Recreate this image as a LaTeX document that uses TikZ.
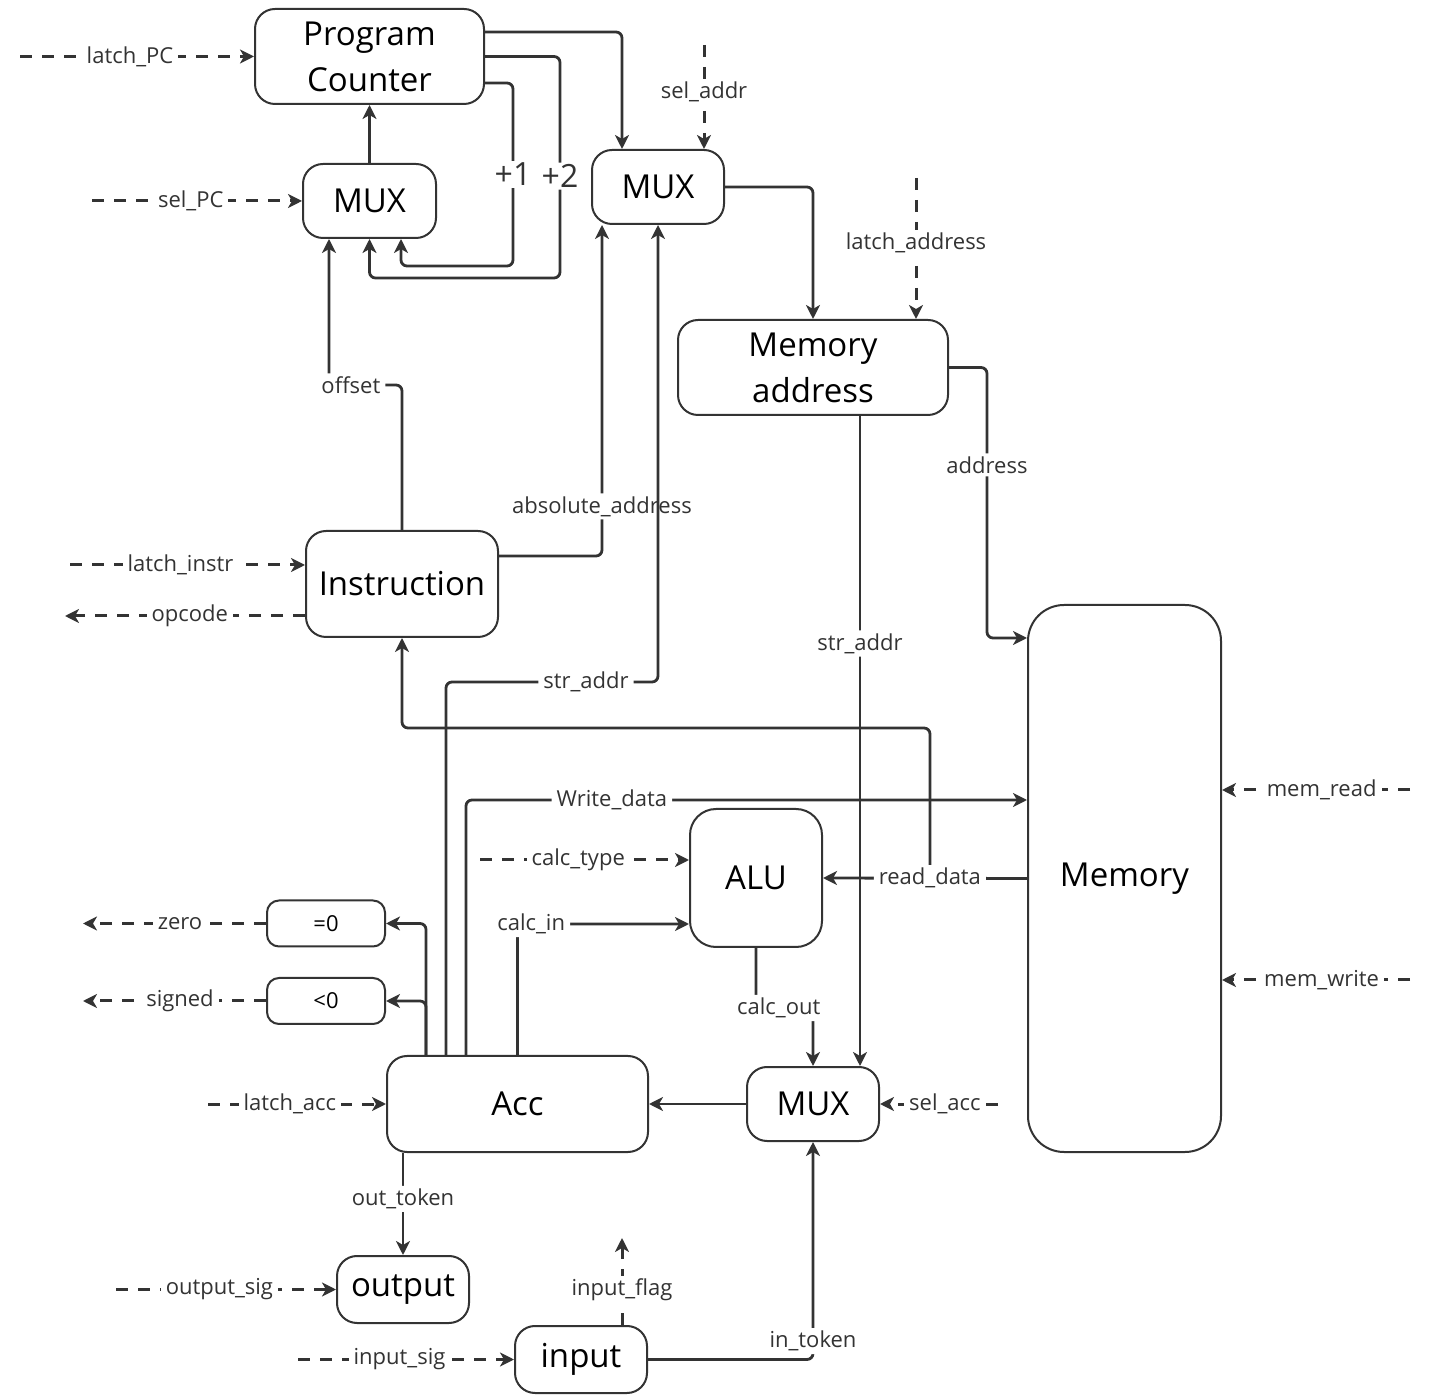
\documentclass[tikz,border=0pt]{standalone}
\usepackage{fontspec}
\setmainfont{Open Sans}
\usepackage{xcolor}
\usetikzlibrary{arrows.meta,positioning}
\definecolor{ink}{HTML}{333333}

\begin{document}
\begin{tikzpicture}[x=0.5pt,y=-0.5pt,
    >={Stealth[length=7pt,width=7pt,inset=2pt]},
    blk/.style={draw=ink, line width=1pt, rounded corners=10pt, inner sep=0pt, align=center, font=\fontsize{16.5}{23}\selectfont},
    chk/.style={blk, rounded corners=6pt, font=\fontsize{11}{13}\selectfont, minimum width=59pt, minimum height=23pt},
    bus/.style={->, draw=ink, line width=1.4pt, rounded corners=3pt},
    sig/.style={->, draw=ink, line width=1.5pt, dash pattern=on 6pt off 5pt},
    lbl/.style={fill=white, inner xsep=2.5pt, inner ysep=1.5pt, text=ink, font=\fontsize{11}{13}\selectfont},
    big/.style={fill=white, inner sep=1pt, text=ink, font=\fontsize{16}{18}\selectfont}]
    \useasboundingbox (0,0) rectangle (1436,1400);

    % registers and units
    \node[blk, minimum width=114.5pt, minimum height=47.5pt] (pc) at (369.5,56.5) {Program\\Counter};
    \node[blk, minimum width=66.5pt, minimum height=37pt] (muxpc) at (369.5,201) {MUX};
    \node[blk, minimum width=66pt, minimum height=37pt] (muxad) at (658,187) {MUX};
    \node[blk, minimum width=135pt, minimum height=47.5pt] (mar) at (813,367.5) {Memory\\address};
    \node[blk, minimum width=96pt, minimum height=53pt] (instr) at (402,584) {Instruction};
    \node[blk, rounded corners=18pt, minimum width=96.5pt, minimum height=273.5pt] (mem) at (1124.5,878.5) {Memory};
    \node[blk, rounded corners=13pt, minimum width=66pt, minimum height=69pt] (alu) at (756,878) {ALU};
    \node[chk] (zchk) at (326,923.5) {=0};
    \node[chk] (nchk) at (326,1001) {<0};
    \node[blk, minimum width=130.5pt, minimum height=48pt] (acc) at (517.5,1104) {Acc};
    \node[blk, minimum width=66pt, minimum height=37pt] (muxacc) at (813,1104) {MUX};
    \node[blk, minimum width=66pt, minimum height=33.5pt] (outp) at (403,1289.5) {output};
    \node[blk, minimum width=66pt, minimum height=33.5pt] (inp) at (581,1359.5) {input};

    % free ends of control signals
    \coordinate (lpc) at (20,56.5);
    \coordinate (spc) at (92,201);
    \coordinate (sad) at (704,45);
    \coordinate (lad) at (916,178);
    \coordinate (lin) at (70,565);
    \coordinate (opc) at (65,616);
    \coordinate (ctp) at (480,860);
    \coordinate (zro) at (83,923.5);
    \coordinate (sgn) at (83,1001);
    \coordinate (lac) at (208,1104);
    \coordinate (sac) at (998,1104);
    \coordinate (osg) at (116,1289.5);
    \coordinate (isg) at (298,1359.5);
    \coordinate (ifl) at (622,1238);
    \coordinate (mrd) at (1410,790);
    \coordinate (mwr) at (1410,980);
    \coordinate (rdj) at (930,878.5);

    % program counter loop
    \draw[bus] (muxpc.north) -- (pc.south);
    \draw[bus] ([yshift=12.25pt]pc.east) -| ([xshift=-18pt]muxad.north);
    \draw[bus] (pc.east) -| node[big, pos=0.77]{+2} (560,278) -| (muxpc.south);
    \draw[bus] ([yshift=-13.25pt]pc.east) -| node[big, pos=0.75]{+1} (513,266) -| ([xshift=15.75pt]muxpc.south);
    \draw[bus] (instr.north) |- node[lbl, pos=0.85]{offset} (329,385) -- ([xshift=-20.25pt]muxpc.south);

    % address path
    \draw[bus] ([yshift=14pt]instr.east) -| node[lbl, pos=0.575]{absolute\_address} ([xshift=-28pt]muxad.south);
    \draw[bus] ([xshift=-35.75pt]acc.north) |- node[lbl, pos=0.83]{str\_addr} (658,682) -- (muxad.south);
    \draw[bus] (muxad.east) -| (mar.north);
    \draw[bus] (mar.east) -| node[lbl, pos=0.68]{address} ([xshift=-20pt,yshift=120.25pt]mem.west) -- ([yshift=120.25pt]mem.west);
    \draw[bus] ([xshift=23.5pt]mar.south) -- node[lbl, pos=0.35]{str\_addr} ([xshift=23.5pt]muxacc.north);

    % data path
    \draw[bus] (rdj) |- (402,728) -- (instr.south);
    \draw[bus] (mem.west) -- node[lbl, pos=0.476]{read\_data} (alu.east);
    \draw[bus] ([xshift=-25.75pt]acc.north) |- node[lbl, pos=0.63]{Write\_data} ([yshift=39.25pt]mem.west);
    \draw[bus] (acc.north) |- node[lbl, pos=0.54]{calc\_in} ([yshift=-23pt]alu.west);
    \draw[bus] (alu.south) |- node[lbl, pos=0.7]{calc\_out} (813,1008) -- (muxacc.north);
    \draw[bus] (muxacc.west) -- (acc.east);
    \draw[bus] ([xshift=-45.75pt]acc.north) |- (zchk.east);
    \draw[bus] ([xshift=-45.75pt]acc.north) |- (nchk.east);
    \draw[bus] ([xshift=-57.25pt]acc.south) -- node[lbl, pos=0.45]{out\_token} (outp.north);
    \draw[bus] (inp.east) -| node[lbl, pos=0.5, above=2pt]{in\_token} (muxacc.south);

    % control signals
    \draw[sig] (lpc) -- node[lbl, pos=0.47]{latch\_PC} (pc.west);
    \draw[sig] (spc) -- node[lbl, pos=0.47]{sel\_PC} (muxpc.west);
    \draw[sig] (sad) -- node[lbl, pos=0.45]{sel\_addr} ([xshift=23pt]muxad.north);
    \draw[sig] (lad) -- node[lbl, pos=0.46]{latch\_address} ([xshift=51.5pt]mar.north);
    \draw[sig] (lin) -- node[lbl, pos=0.47]{latch\_instr} ([yshift=9.5pt]instr.west);
    \draw[sig] ([yshift=-16pt]instr.west) -- node[lbl, pos=0.48]{opcode} (opc);
    \draw[sig] (ctp) -- node[lbl, pos=0.47]{calc\_type} ([yshift=9pt]alu.west);
    \draw[sig] (zchk.west) -- node[lbl, pos=0.47]{zero} (zro);
    \draw[sig] (nchk.west) -- node[lbl, pos=0.47]{signed} (sgn);
    \draw[sig] (lac) -- node[lbl, pos=0.46]{latch\_acc} (acc.west);
    \draw[sig] (sac) -- node[lbl, pos=0.45]{sel\_acc} (muxacc.east);
    \draw[sig] (osg) -- node[lbl, pos=0.47]{output\_sig} (outp.west);
    \draw[sig] (isg) -- node[lbl, pos=0.47]{input\_sig} (inp.west);
    \draw[sig] ([xshift=20.5pt]inp.north) -- node[lbl, pos=0.4]{input\_flag} (ifl);
    \draw[sig] (mrd) -- node[lbl, pos=0.47]{mem\_read} ([yshift=44.25pt]mem.east);
    \draw[sig] (mwr) -- node[lbl, pos=0.47]{mem\_write} ([yshift=-50.75pt]mem.east);
\end{tikzpicture}
\end{document}
